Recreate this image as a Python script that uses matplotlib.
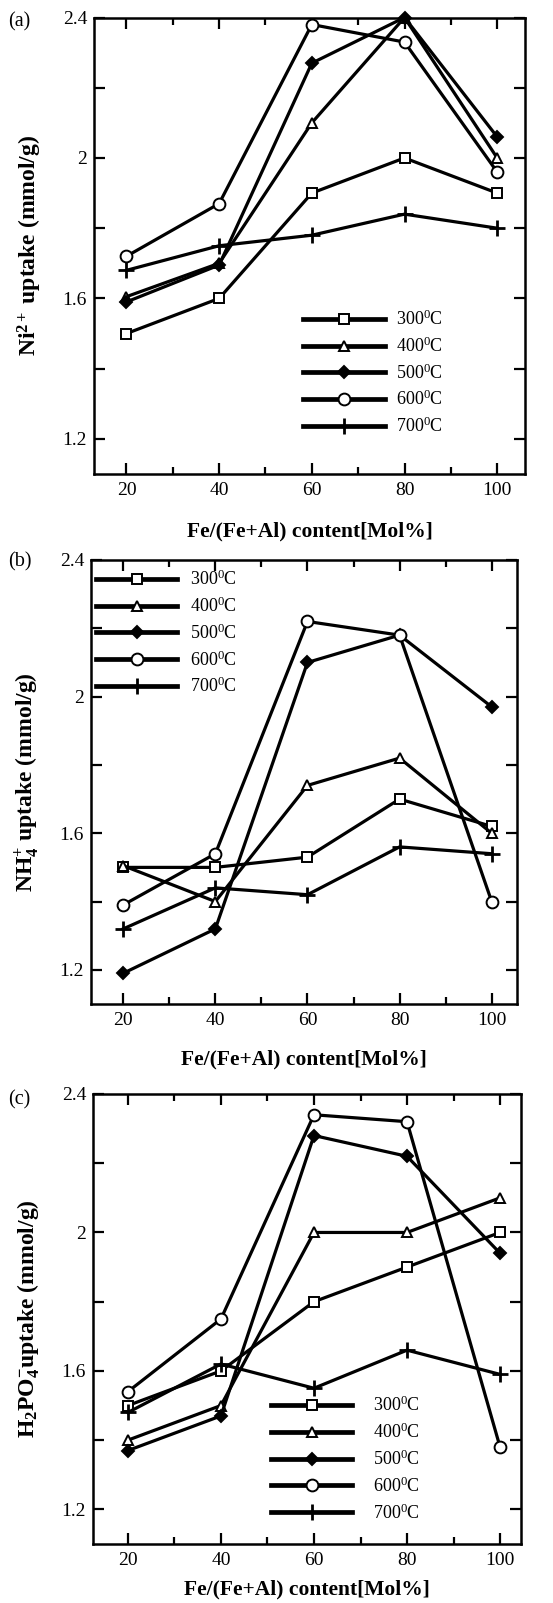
import matplotlib
matplotlib.use('Agg')
import matplotlib.pyplot as plt
from matplotlib.lines import Line2D
from matplotlib.ticker import FixedLocator

plt.rcParams['font.family'] = ['Liberation Serif', 'DejaVu Serif']
plt.rcParams['mathtext.fontset'] = 'custom'
plt.rcParams['mathtext.rm'] = 'Liberation Serif'
plt.rcParams['mathtext.it'] = 'Liberation Serif:italic'
plt.rcParams['mathtext.bf'] = 'Liberation Serif:bold'

# Fe/(Fe+Al) content, mol%
fe = [20, 40, 60, 80, 100]
temps = ['300', '400', '500', '600', '700']

# (a) Ni2+ uptake
ni_300 = [1.50, 1.60, 1.90, 2.00, 1.90]
ni_400 = [1.605, 1.70, 2.10, 2.40, 2.00]
ni_500 = [1.59, 1.695, 2.27, 2.40, 2.06]
ni_600 = [1.72, 1.87, 2.38, 2.33, 1.96]
ni_700 = [1.68, 1.75, 1.78, 1.84, 1.80]

# (b) NH4+ uptake
nh_300 = [1.50, 1.50, 1.53, 1.70, 1.62]
nh_400 = [1.505, 1.40, 1.74, 1.82, 1.60]
nh_500 = [1.19, 1.32, 2.10, 2.18, 1.97]
nh_600 = [1.39, 1.54, 2.22, 2.18, 1.40]
nh_700 = [1.32, 1.44, 1.42, 1.56, 1.54]

# (c) H2PO4- uptake
po_300 = [1.50, 1.60, 1.80, 1.90, 2.00]
po_400 = [1.40, 1.50, 2.00, 2.00, 2.10]
po_500 = [1.37, 1.47, 2.28, 2.22, 1.94]
po_600 = [1.54, 1.75, 2.34, 2.32, 1.38]
po_700 = [1.48, 1.62, 1.55, 1.66, 1.59]

yticks = [1.2, 1.6, 2.0, 2.4]
ytick_labels = ['1.2', '1.6', '2', '2.4']

# marker, face colour, size, edge width
styles = [('s', 'white', 6.5, 1.4),
          ('^', 'white', 7, 1.4),
          ('D', 'black', 6, 1.4),
          ('o', 'white', 8.5, 1.4),
          ('+', 'black', 11, 2.0)]

W, H = 553, 1603
fig = plt.figure(figsize=(W / 100, H / 100), dpi=100)


def make_axes(l, r, t, b):
    return fig.add_axes([l / W, 1 - b / H, (r - l) / W, (b - t) / H])


panels = [
    dict(ax=make_axes(94, 525, 17.5, 474), xlim=(13, 106),
         series=[ni_300, ni_400, ni_500, ni_600, ni_700],
         ylab=r'Ni$^{\mathbf{2+}}$ uptake (mmol/g)', tag='(a)', tag_y=22,
         leg=(0.486, 0.36), txtpad=0.62, xlab_y=-0.105, ylab_x=-0.148),
    dict(ax=make_axes(91, 517, 560, 1004), xlim=(13, 105.5),
         series=[nh_300, nh_400, nh_500, nh_600, nh_700],
         ylab=r'NH$_\mathbf{4}^{\mathbf{+}}$ uptake (mmol/g)', tag='(b)', tag_y=562,
         leg=(0.012, 0.978), txtpad=0.68, xlab_y=-0.102, ylab_x=-0.149),
    dict(ax=make_axes(93, 521, 1094, 1544), xlim=(12.5, 104.5),
         series=[po_300, po_400, po_500, po_600, po_700],
         ylab=r'H$_\mathbf{2}$PO$_\mathbf{4}^{\mathbf{-}}$uptake (mmol/g)', tag='(c)', tag_y=1100,
         leg=(0.416, 0.329), txtpad=1.13, xlab_y=-0.078, ylab_x=-0.150),
]

for p in panels:
    ax = p['ax']
    for vals, (m, fc, ms, mew) in zip(p['series'], styles):
        ax.plot(fe, vals, color='black', lw=2.3, marker=m, mfc=fc, mec='black',
                ms=ms, mew=mew, clip_on=False)

    ax.set_xlim(*p['xlim'])
    ax.set_ylim(1.1, 2.4)
    ax.set_xticks(fe)
    ax.xaxis.set_minor_locator(FixedLocator([30, 50, 70, 90]))
    ax.set_yticks(yticks)
    ax.set_yticklabels(ytick_labels)
    ax.yaxis.set_minor_locator(FixedLocator([1.4, 1.8, 2.2]))
    ax.tick_params(which='both', direction='in', top=True, right=True, width=1.6,
                   labelsize=14)
    ax.tick_params(axis='x', which='both', pad=6)
    ax.tick_params(axis='y', which='both', pad=5)
    ax.tick_params(which='major', length=8)
    ax.tick_params(axis='x', which='minor', length=5)
    ax.tick_params(axis='y', which='minor', length=8)
    for sp in ax.spines.values():
        sp.set_linewidth(1.8)

    ax.set_ylabel(p['ylab'], fontsize=17, fontweight='bold')
    ax.yaxis.label.set_va('center')
    ax.yaxis.set_label_coords(p['ylab_x'], 0.5)
    ax.set_xlabel('Fe/(Fe+Al) content[Mol%]', fontsize=15.5, fontweight='bold')
    ax.xaxis.set_label_coords(0.5, p['xlab_y'])

    fig.text(8 / W, 1 - p['tag_y'] / H, p['tag'], fontsize=14.5, va='center', ha='left')

    handles = [Line2D([0], [0], color='black', lw=3.4, marker=m, mfc=fc, mec='black',
                      ms=ms, mew=mew) for (m, fc, ms, mew) in styles]
    labels = [t + r'$^\mathrm{0}$C' for t in temps]
    ax.legend(handles, labels, loc='upper left', bbox_to_anchor=p['leg'],
              frameon=False, fontsize=13, handlelength=4.5, handletextpad=p['txtpad'],
              labelspacing=0.41, borderpad=0, borderaxespad=0)

fig.savefig('out.png', dpi=100)
